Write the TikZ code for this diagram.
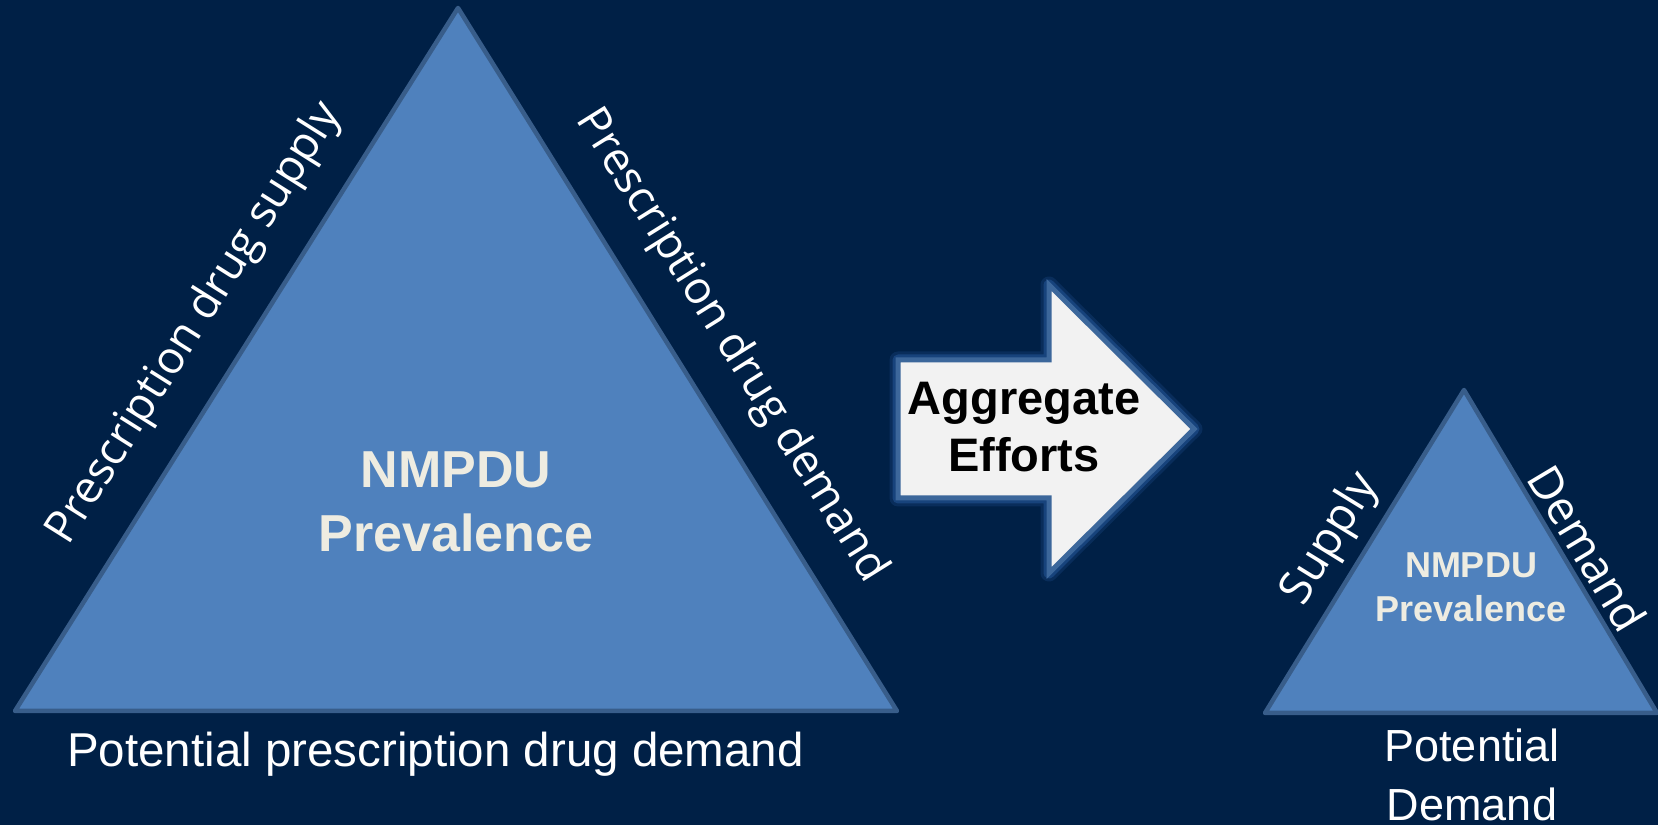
\documentclass[tikz,border=0pt]{standalone}
\usepackage{fontspec}
\setmainfont{Liberation Sans}
\newfontfamily\sidefont{Open Sans}
\usetikzlibrary{calc}
\definecolor{bg}{RGB}{0,32,70}
\definecolor{trifill}{RGB}{79,129,189}
\definecolor{triline}{RGB}{56,93,138}
\definecolor{cream}{RGB}{238,236,225}
\definecolor{arrowfill}{RGB}{242,242,242}
\definecolor{arrowline}{RGB}{60,103,155}
\definecolor{glow}{RGB}{45,100,175}
\begin{document}
\begin{tikzpicture}[x=1pt,y=1pt,
  tri/.style={fill=trifill, draw=triline, line width=4.5pt, line join=round},
  sidelabel/.style={text=white, inner sep=0pt, anchor=base, font=\sidefont\fontsize{45}{54}\selectfont},
  sidesmall/.style={text=white, inner sep=0pt, anchor=base, font=\sidefont\fontsize{46}{54}\selectfont},
  corebig/.style={text=cream, inner sep=0pt, anchor=base, font=\bfseries\fontsize{52}{60}\selectfont},
  coresmall/.style={text=cream, inner sep=0pt, anchor=base, font=\bfseries\fontsize{36}{44}\selectfont},
  baselabel/.style={text=white, inner sep=0pt, anchor=base, font=\fontsize{47.5}{56}\selectfont},
  smallbase/.style={text=white, inner sep=0pt, anchor=base, font=\fontsize{45}{54}\selectfont},
  arrowtext/.style={text=black, inner sep=0pt, anchor=base, font=\bfseries\fontsize{47}{56}\selectfont}]

% background and page frame
\fill[bg] (0,0) rectangle (1658,825);
\useasboundingbox (0,0) rectangle (1658,825);

% large triangle
\coordinate (A) at (15,114);
\coordinate (B) at (897,114);
\coordinate (C) at (458,817);
\draw[tri] (A) -- (B) -- (C) -- cycle;

% small triangle
\coordinate (D) at (1265,112);
\coordinate (E) at (1657,112);
\coordinate (F) at (1464,435);
\draw[tri] (D) -- (E) -- (F) -- cycle;

% labels along the large triangle
\node[sidelabel, rotate=57.8] (supplyL) at ($($(A)!0.51!(C)$)!42pt!90:(C)$) {Prescription drug supply};
\node[sidelabel, rotate=-58.0] (demandL) at ($($(C)!0.52!(B)$)!41pt!90:(B)$) {Prescription drug demand};
\node[corebig] (coreL1) at (456,337) {NMPDU};
\node[corebig] (coreL2) at (456,273) {Prevalence};
\node[baselabel, anchor=base west] (potL) at (67,58) {Potential prescription drug demand};

% labels along the small triangle
\node[sidesmall, rotate=58.4] (supplyS) at ($($(D)!0.48!(F)$)!23pt!90:(F)$) {Supply};
\node[sidesmall, rotate=-59.1] (demandS) at ($($(F)!0.53!(E)$)!8pt!90:(E)$) {Demand};
\node[coresmall] (coreS1) at (1471,247) {NMPDU};
\node[coresmall] (coreS2) at (1471,203) {Prevalence};
\node[smallbase] (potS1) at (1472,63) {Potential};
\node[smallbase] (potS2) at (1472,5) {Demand};

% block arrow between the triangles
\def\arrowpath{(898,465) -- (1049,465) -- (1049,540) -- (1194,396) -- (1049,252) -- (1049,327) -- (898,327) -- cycle}
\draw[glow, opacity=0.2, line width=17pt, line join=round] \arrowpath;
\draw[glow, opacity=0.4, line width=11pt, line join=round] \arrowpath;
\draw[fill=arrowfill, draw=arrowline, line width=5pt, line join=miter] \arrowpath;
\node[arrowtext] (agg1) at (1024,410) {Aggregate};
\node[arrowtext] (agg2) at (1024,353) {Efforts};
\end{tikzpicture}
\end{document}
